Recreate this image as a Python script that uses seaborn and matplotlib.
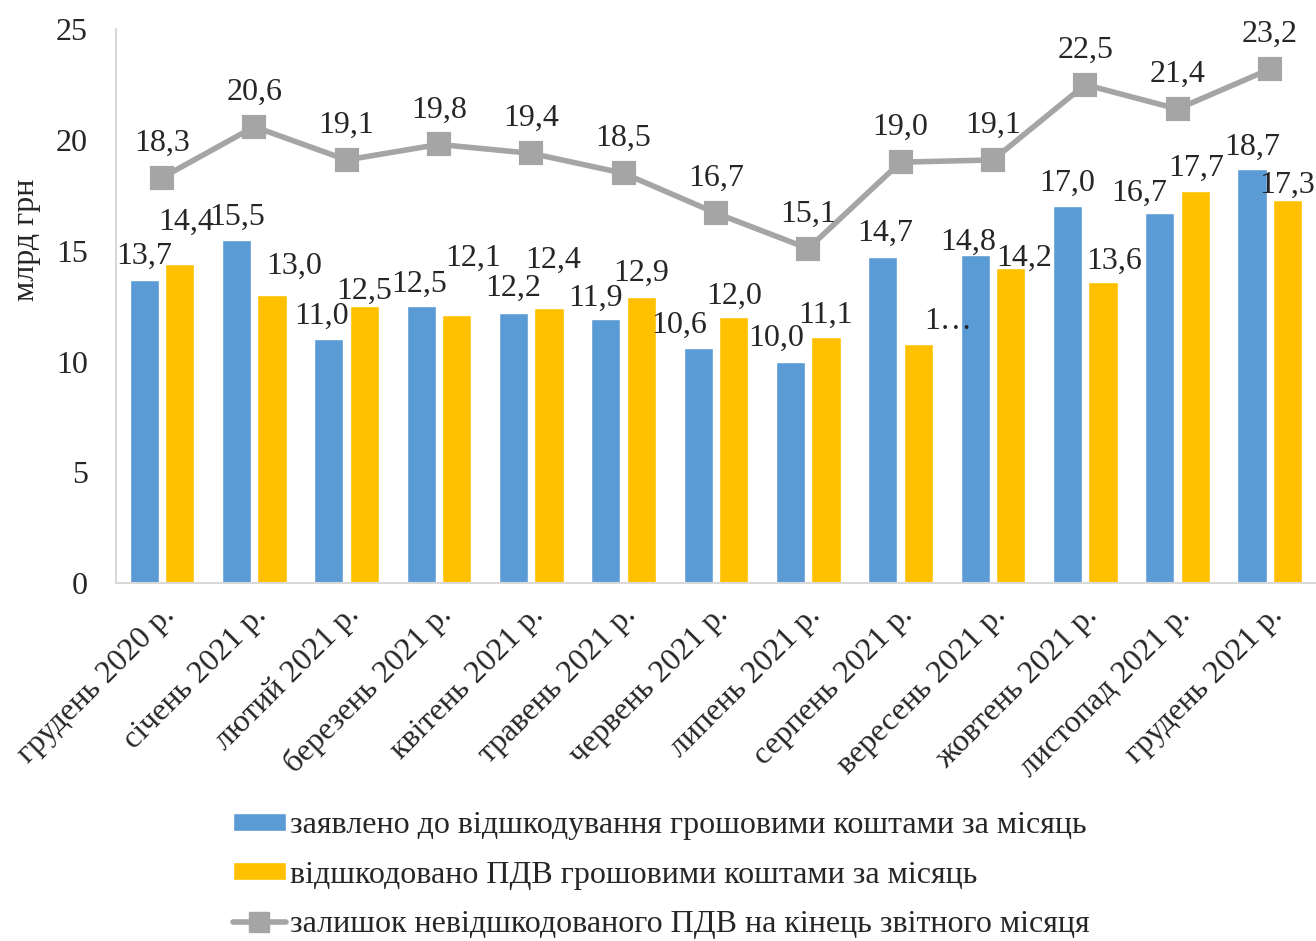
import numpy as np
import pandas as pd
import seaborn as sns
import matplotlib.pyplot as plt
import matplotlib.transforms as mtransforms
from matplotlib.patches import Patch
from matplotlib.lines import Line2D

# Data
months = ['грудень 2020 р.', 'січень 2021 р.', 'лютий 2021 р.', 'березень 2021 р.',
          'квітень 2021 р.', 'травень 2021 р.', 'червень 2021 р.', 'липень 2021 р.',
          'серпень 2021 р.', 'вересень 2021 р.', 'жовтень 2021 р.', 'листопад 2021 р.',
          'грудень 2021 р.']
claimed = [13.7, 15.5, 11.0, 12.5, 12.2, 11.9, 10.6, 10.0, 14.7, 14.8, 17.0, 16.7, 18.7]
refunded = [14.4, 13.0, 12.5, 12.1, 12.4, 12.9, 12.0, 11.1, 10.8, 14.2, 13.6, 17.7, 17.3]
balance = [18.3, 20.6, 19.1, 19.8, 19.4, 18.5, 16.7, 15.1, 19.0, 19.1, 22.5, 21.4, 23.2]

series_names = ['заявлено до відшкодування грошовими коштами за місяць',
                'відшкодовано ПДВ грошовими коштами за місяць',
                'залишок невідшкодованого ПДВ на кінець звітного місяця']

# label offsets (pixels) relative to bar top, as placed in the original
claimed_off = [(0, 27), (1, 26), (-7, 27), (-2, 25), (0, 28), (-10, 25), (-19, 26),
               (-14, 27), (2, 28), (-7, 16), (0, 27), (-21, 23), (0, 25)]
refunded_off = [(6, 45), (22, 32), (0, 18), (16, 60), (4, 52), (0, 27), (1, 24),
                (0, 25), (30, 26), (14, 14), (11, 24), (1, 26), (0, 18)]
refunded_text = {8: '1…'}

blue = '#5B9BD5'
gold = '#FFC000'
grey = '#A5A5A5'

sns.set_style('white')
plt.rcParams['font.family'] = ['Liberation Serif', 'DejaVu Serif']
fs = 23

df = pd.DataFrame({'month': months * 2,
                   'value': claimed + refunded,
                   'series': [series_names[0]] * len(months) + [series_names[1]] * len(months)})

fig = plt.figure(figsize=(13.16, 9.41), dpi=100)
ax = fig.add_axes([0.088, 0.3804, 0.912, 0.5885])

sns.barplot(data=df, x='month', y='value', hue='series', palette=[blue, gold],
            width=0.77, gap=0.18, saturation=1, legend=False, ax=ax)
sns.pointplot(x=months, y=balance, color=grey, marker='s', markersize=14,
              linewidth=4, ax=ax)

ax.set_ylim(0, 25)
ax.set_xlim(-0.5, len(months) - 0.5)
ax.set_yticks([0, 5, 10, 15, 20, 25])
ax.tick_params(axis='y', length=0, pad=20, labelsize=fs)
ax.tick_params(axis='x', length=0, pad=20, labelsize=fs)
shift = mtransforms.ScaledTranslation(6 / 72, 0, fig.dpi_scale_trans)
for lab in ax.get_xticklabels():
    lab.set_rotation(45)
    lab.set_ha('right')
    lab.set_va('center')
    lab.set_rotation_mode('anchor')
    lab.set_transform(lab.get_transform() + shift)
ax.set_xlabel('')
ax.set_ylabel('млрд грн', fontsize=fs)
ax.yaxis.set_label_coords(-0.062, 0.62)

for s in ['top', 'right']:
    ax.spines[s].set_visible(False)
for s in ['left', 'bottom']:
    ax.spines[s].set_color('#D9D9D9')
    ax.spines[s].set_linewidth(1.5)

fmt = lambda v: f'{v:.1f}'.replace('.', ',')
slot = 0.77 / 2
for i in range(len(months)):
    ax.annotate(fmt(claimed[i]), (i - slot / 2, claimed[i]), xytext=(claimed_off[i][0], claimed_off[i][1] - 11),
                textcoords='offset pixels', ha='center', va='baseline', fontsize=fs)
    ax.annotate(refunded_text.get(i, fmt(refunded[i])), (i + slot / 2, refunded[i]),
                xytext=(refunded_off[i][0], refunded_off[i][1] - 11),
                textcoords='offset pixels', ha='center', va='baseline', fontsize=fs)
    ax.annotate(fmt(balance[i]), (i, balance[i]), xytext=(0, 27),
                textcoords='offset pixels', ha='center', va='baseline', fontsize=fs)

handles = [Patch(facecolor=blue), Patch(facecolor=gold),
           Line2D([], [], color=grey, lw=4, marker='s', markersize=14)]
fig.legend(handles, series_names, loc='upper left', bbox_to_anchor=(0.177, 0.138),
           frameon=False, fontsize=fs, borderpad=0, borderaxespad=0,
           handlelength=1.66, handleheight=0.5, handletextpad=0.12, labelspacing=0.64)

fig.savefig('out.png', dpi=100)
